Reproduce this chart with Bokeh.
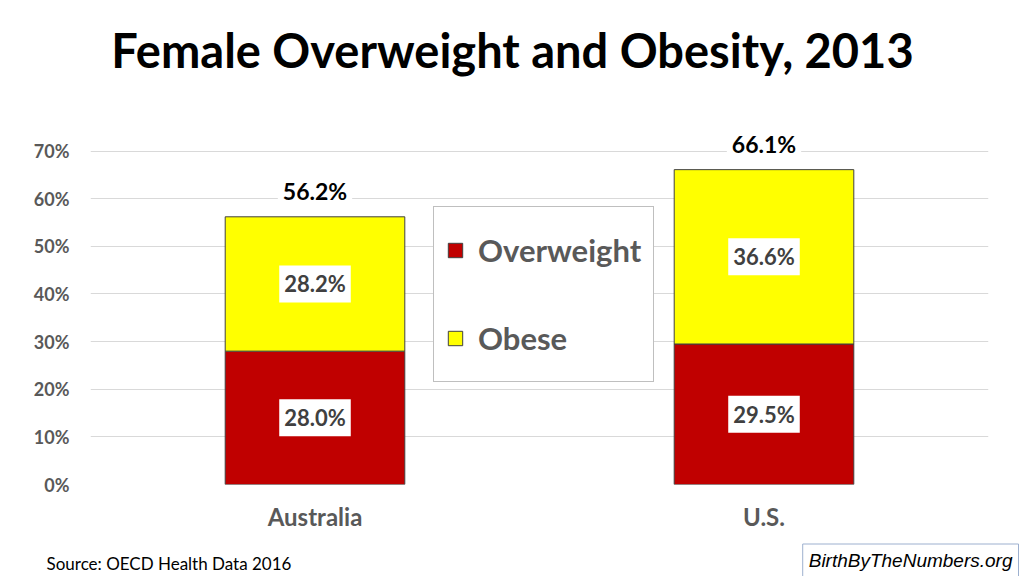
from bokeh.plotting import figure
from bokeh.layouts import column
from bokeh.models import (ColumnDataSource, Legend, LegendItem, Label, FixedTicker,
                          FactorRange, Range1d)
from bokeh.core.properties import value
from bokeh.embed import file_html
from bokeh.resources import INLINE

countries = ["Australia", "U.S."]
overweight = [28.0, 29.5]
obese = [28.2, 36.6]
totals = [56.2, 66.1]
y_ticks = [0, 10, 20, 30, 40, 50, 60, 70]
series_names = ["Overweight", "Obese"]
colors = ["#C00000", "#FFFF00"]
title_text = "Female Overweight and Obesity, 2013"
source_text = "Source: OECD Health Data 2016"
brand_text = "BirthByTheNumbers.org"

FONT = "Lato"
GRAY = "#595959"
W = 1024
HEAD_H, MAIN_H, FOOT_H = 110, 430, 36


def blank(height):
    f = figure(width=W, height=height, x_range=Range1d(0, W), y_range=Range1d(0, height),
               output_backend="svg", toolbar_location=None, min_border=0,
               min_border_left=0, min_border_right=0, min_border_top=0,
               min_border_bottom=0, x_axis_location=None, y_axis_location=None)
    f.grid.visible = False
    f.outline_line_color = None
    f.background_fill_color = "white"
    f.frame_align = False
    return f


# ---- header with title
head = blank(HEAD_H)
head.add_layout(Label(x=W / 2, y=61, text=title_text, text_align="center",
                      text_baseline="alphabetic", text_font=FONT, text_font_style="bold",
                      text_font_size="47px", text_color="black"))

# ---- main chart
src = ColumnDataSource(dict(
    country=countries,
    overweight=overweight,
    obese=obese,
    total=totals,
    total_lbl=[f"{t:.1f}%" for t in totals],
    mid_ow=[o / 2 for o in overweight],
    mid_ob=[o + b / 2 for o, b in zip(overweight, obese)],
    lbl_ow=[f"{o:.1f}%" for o in overweight],
    lbl_ob=[f"{b:.1f}%" for b in obese],
))

p = figure(width=W, height=MAIN_H, x_range=FactorRange(*countries),
           y_range=Range1d(0, 76), output_backend="svg", toolbar_location=None,
           min_border_left=90, min_border_right=36, min_border_top=12,
           min_border_bottom=56)
p.frame_align = False
p.outline_line_color = None
p.background_fill_color = "white"

rs = p.vbar_stack(["overweight", "obese"], x="country", width=0.4, color=colors,
                  line_color="#404040", line_width=1, source=src)

for ycol, tcol in (("mid_ow", "lbl_ow"), ("mid_ob", "lbl_ob")):
    p.text(x="country", y=ycol, text=tcol, source=src, text_align="center",
           text_baseline="middle", text_font=value(FONT), text_font_style="bold",
           text_font_size="22px", text_color="#404040",
           background_fill_color="white", padding=5)

p.text(x="country", y="total", text="total_lbl", source=src, text_align="center",
       text_baseline="middle", y_offset=-26, text_font=value(FONT),
       text_font_style="bold", text_font_size="23px", text_color="black",
       background_fill_color="white", padding=5)

p.yaxis.ticker = FixedTicker(ticks=y_ticks)
p.ygrid.ticker = FixedTicker(ticks=y_ticks)
p.yaxis.major_label_overrides = {t: f"{t}%" for t in y_ticks}
for ax in (p.xaxis[0], p.yaxis[0]):
    ax.axis_line_color = None
    ax.major_tick_line_color = None
    ax.minor_tick_line_color = None
    ax.major_label_text_font = FONT
    ax.major_label_text_font_style = "bold"
    ax.major_label_text_color = GRAY
p.yaxis.major_label_text_font_size = "18px"
p.yaxis.major_label_standoff = 15
p.xaxis.major_label_text_font_size = "24px"
p.xaxis.major_label_standoff = 11
p.xgrid.grid_line_color = None
p.ygrid.grid_line_color = "#d9d9d9"
p.ygrid.grid_line_width = 1

legend = Legend(items=[LegendItem(label=n, renderers=[r]) for n, r in zip(series_names, rs)],
                location=(343, 102), orientation="vertical",
                label_text_font=FONT, label_text_font_style="bold",
                label_text_font_size="31px", label_text_color=GRAY,
                glyph_width=18, glyph_height=18, label_height=62, spacing=26,
                padding=12, margin=0, label_standoff=14,
                border_line_color="#7F7F7F", border_line_width=1,
                background_fill_color="white", background_fill_alpha=1)
p.add_layout(legend)

# ---- footer
foot = blank(FOOT_H)
foot.add_layout(Label(x=46, y=13, text=source_text, text_align="left",
                      text_baseline="middle", text_font=FONT, text_font_size="17px",
                      text_color="black"))
foot.add_layout(Label(x=1018, y=16, text=brand_text, text_align="right",
                      text_baseline="middle", text_font="Liberation Sans",
                      text_font_style="italic", text_font_size="19px",
                      text_color="black", border_line_color="#9DB0CF",
                      border_line_width=1, background_fill_color="white", padding=6))

layout = column(head, p, foot, spacing=0)
open("out.html", "w").write(file_html(layout, INLINE))
